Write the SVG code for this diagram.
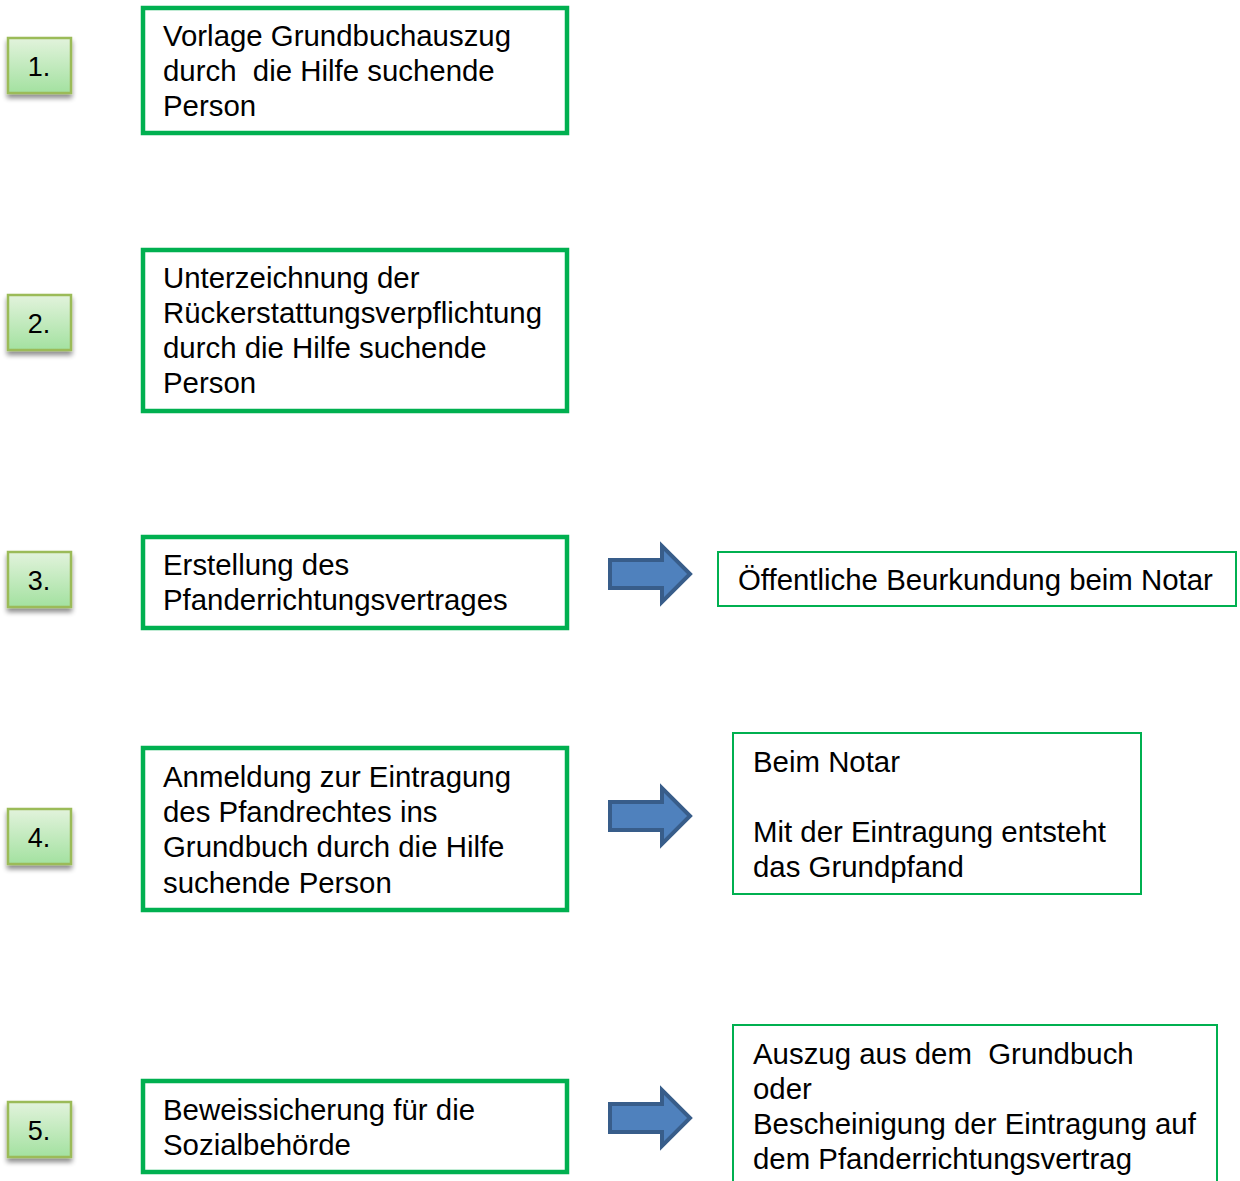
<svg xmlns="http://www.w3.org/2000/svg" width="1240" height="1181" viewBox="0 0 1240 1181">
<defs>
<linearGradient id="g" x1="0" y1="0" x2="0" y2="1">
<stop offset="0" stop-color="#e2f3dc"/>
<stop offset="1" stop-color="#a3e1a0"/>
</linearGradient>
<filter id="sh" x="-20%" y="-20%" width="140%" height="160%">
<feGaussianBlur in="SourceAlpha" stdDeviation="2.5"/>
<feOffset dx="0" dy="4"/>
<feComponentTransfer><feFuncA type="linear" slope="0.45"/></feComponentTransfer>
<feMerge><feMergeNode/><feMergeNode in="SourceGraphic"/></feMerge>
</filter>
<path id="arr" d="M610,560 H662 V546 L690,574 L662,602 V588 H610 Z"/>
</defs>
<style>
text{font-family:"Liberation Sans",Arial,sans-serif;fill:#000}
.t{font-size:29.4px}
.n{font-size:27px;text-anchor:middle}
.num{fill:url(#g);stroke:#9bbb59;stroke-width:2.5;filter:url(#sh)}
.main{fill:#fff;stroke:#00b050;stroke-width:4.5}
.side{fill:#fff;stroke:#00b050;stroke-width:2}
.a{fill:#4f81bd;stroke:#385d8a;stroke-width:4;stroke-linejoin:miter}
</style>
<rect width="1240" height="1181" fill="#fff"/>

<g id="num1"><rect class="num" x="8" y="38" width="63" height="55"/><text class="n" x="39" y="76">1.</text></g>
<g id="num2"><rect class="num" x="8" y="295" width="63" height="55"/><text class="n" x="39" y="333">2.</text></g>
<g id="num3"><rect class="num" x="8" y="552" width="63" height="55"/><text class="n" x="39" y="590">3.</text></g>
<g id="num4"><rect class="num" x="8" y="809" width="63" height="55"/><text class="n" x="39" y="847">4.</text></g>
<g id="num5"><rect class="num" x="8" y="1102" width="63" height="55"/><text class="n" x="39" y="1140">5.</text></g>

<g id="step1"><rect class="main" x="143" y="8" width="424" height="125"/>
<text class="t" x="163" y="46">Vorlage Grundbuchauszug</text>
<text class="t" x="163" y="81" xml:space="preserve">durch  die Hilfe suchende</text>
<text class="t" x="163" y="116">Person</text></g>

<g id="step2"><rect class="main" x="143" y="250" width="424" height="161"/>
<text class="t" x="163" y="288">Unterzeichnung der</text>
<text class="t" x="163" y="323">Rückerstattungsverpflichtung</text>
<text class="t" x="163" y="358">durch die Hilfe suchende</text>
<text class="t" x="163" y="393">Person</text></g>

<g id="step3"><rect class="main" x="143" y="537" width="424" height="91"/>
<text class="t" x="163" y="575">Erstellung des</text>
<text class="t" x="163" y="610">Pfanderrichtungsvertrages</text></g>

<g id="step4"><rect class="main" x="143" y="748" width="424" height="162"/>
<text class="t" x="163" y="787">Anmeldung zur Eintragung</text>
<text class="t" x="163" y="822">des Pfandrechtes ins</text>
<text class="t" x="163" y="857">Grundbuch durch die Hilfe</text>
<text class="t" x="163" y="893">suchende Person</text></g>

<g id="step5"><rect class="main" x="143" y="1081" width="424" height="91"/>
<text class="t" x="163" y="1120">Beweissicherung für die</text>
<text class="t" x="163" y="1155">Sozialbehörde</text></g>

<g id="note3"><rect class="side" x="718" y="552" width="518" height="54"/>
<text class="t" x="738" y="590">Öffentliche Beurkundung beim Notar</text></g>

<g id="note4"><rect class="side" x="733" y="733" width="408" height="161"/>
<text class="t" x="753" y="772">Beim Notar</text>
<text class="t" x="753" y="842">Mit der Eintragung entsteht</text>
<text class="t" x="753" y="877">das Grundpfand</text></g>

<g id="note5"><rect class="side" x="733" y="1025" width="484" height="170"/>
<text class="t" x="753" y="1064" xml:space="preserve">Auszug aus dem  Grundbuch</text>
<text class="t" x="753" y="1099">oder</text>
<text class="t" x="753" y="1134">Bescheinigung der Eintragung auf</text>
<text class="t" x="753" y="1169">dem Pfanderrichtungsvertrag</text></g>

<g id="connectors">
<use href="#arr" class="a"/>
<use href="#arr" class="a" transform="translate(0,242)"/>
<use href="#arr" class="a" transform="translate(0,544)"/>
</g>
</svg>
